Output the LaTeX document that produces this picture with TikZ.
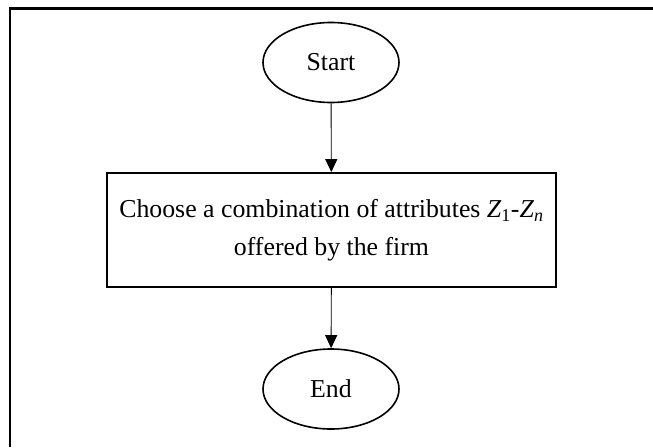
\documentclass[tikz,border=0pt]{standalone}
\usepackage{fontspec}
\setmainfont{Liberation Serif}
\usetikzlibrary{shapes.geometric,arrows.meta}
\begin{document}
\begin{tikzpicture}[x=1pt,y=-1pt,
  term/.style={ellipse,draw,line width=1.6pt,minimum width=136pt,minimum height=80pt,inner sep=0pt,font=\fontsize{25.8}{31}\selectfont},
  proc/.style={rectangle,draw,line width=1.8pt,minimum width=449pt,minimum height=114pt,inner sep=0pt,align=center,font=\fontsize{25.8}{38}\selectfont},
  flow/.style={-{Triangle[width=12pt,length=13pt]},line width=0.9pt},
  frame/.style={line width=2.5pt}]
\useasboundingbox (0,0) rectangle (653,447);
\draw[frame] (10,447) -- (10,8.5) -- (653,8.5);
\node[term] (start) at (331,62.5) {Start};
\node[proc] (choose) at (331.5,230) {Choose a combination of attributes \textit{Z}\textsubscript{1}-\textit{Z}\textsubscript{\textit{n}}\\offered by the firm};
\node[term] (end) at (331,389) {End};
\draw[flow] (start) -- (choose);
\draw[flow] (choose) -- (end);
\end{tikzpicture}
\end{document}
